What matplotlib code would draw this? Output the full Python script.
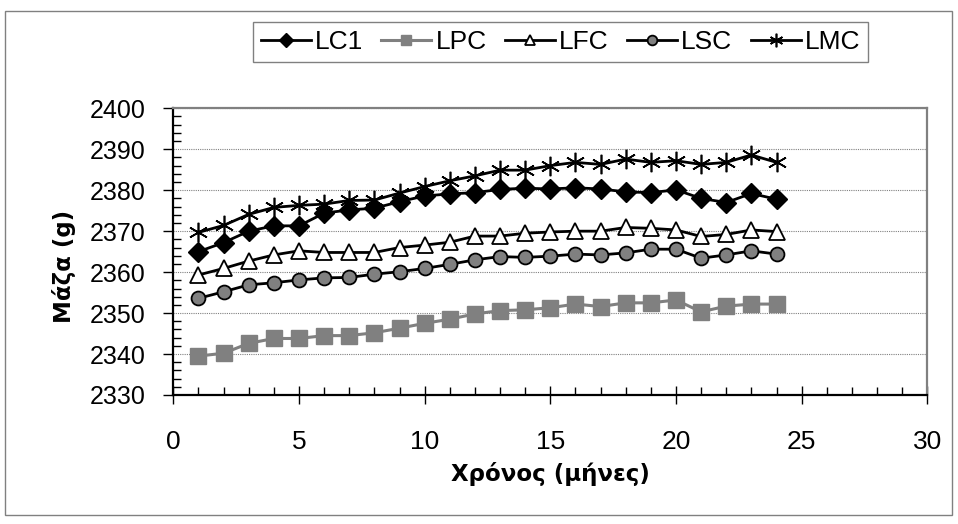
import matplotlib
matplotlib.use("Agg")
import matplotlib.pyplot as plt
from matplotlib.patches import Rectangle
from matplotlib.ticker import MultipleLocator

# Monthly mass measurements (g) for each mix
months = list(range(1, 25))
lc1 = [2365.0, 2367.2, 2370.0, 2371.3, 2371.3, 2374.4, 2375.2, 2375.6, 2377.2, 2378.6,
       2379.1, 2379.4, 2380.2, 2380.5, 2380.3, 2380.6, 2380.3, 2379.6, 2379.4, 2380.1,
       2378.0, 2377.0, 2379.2, 2377.8]
lpc = [2339.5, 2340.2, 2342.6, 2343.8, 2343.8, 2344.5, 2344.5, 2345.2, 2346.3, 2347.5,
       2348.5, 2349.8, 2350.6, 2350.8, 2351.3, 2352.2, 2351.6, 2352.5, 2352.5, 2353.2,
       2350.3, 2351.7, 2352.2, 2352.2]
lfc = [2359.3, 2360.9, 2362.7, 2364.2, 2365.2, 2364.8, 2364.8, 2364.8, 2366.0, 2366.6,
       2367.3, 2368.8, 2368.8, 2369.5, 2369.8, 2370.0, 2370.0, 2370.9, 2370.7, 2370.3,
       2368.7, 2369.2, 2370.3, 2369.9]
lsc = [2353.6, 2355.2, 2356.9, 2357.4, 2358.1, 2358.6, 2358.7, 2359.5, 2360.1, 2360.9,
       2361.9, 2363.0, 2363.8, 2363.6, 2363.9, 2364.4, 2364.2, 2364.7, 2365.6, 2365.6,
       2363.4, 2364.2, 2365.2, 2364.4]
lmc = [2369.7, 2371.4, 2374.1, 2375.8, 2376.3, 2376.6, 2377.5, 2377.6, 2379.3, 2380.9,
       2382.3, 2383.5, 2384.9, 2384.9, 2386.0, 2386.8, 2386.3, 2387.6, 2386.8, 2387.2,
       2386.3, 2386.8, 2388.6, 2386.8]

labels = ["LC1", "LPC", "LFC", "LSC", "LMC"]
x_label = "Χρόνος (μήνες)"
y_label = "Μάζα (g)"

plt.rcParams["font.family"] = ["Liberation Sans", "DejaVu Sans"]
narrow = ["Liberation Sans Narrow", "Liberation Sans", "DejaVu Sans"]

W, H = 958, 524
fig = plt.figure(figsize=(W / 100, H / 100), dpi=100)
ax = fig.add_axes([173.3 / W, 1 - 395 / H, 754 / W, 286.7 / H])

gray = "#808080"
ax.plot(months, lc1, color="black", lw=2, marker="D", ms=10, mfc="black", mec="black",
        label=labels[0], zorder=3)
ax.plot(months, lpc, color=gray, lw=2.2, marker="s", ms=11, mfc=gray, mec=gray,
        label=labels[1], zorder=3)
ax.plot(months, lfc, color="black", lw=2, marker="^", ms=11, mfc="white", mec="black",
        mew=1.3, label=labels[2], zorder=3)
ax.plot(months, lsc, color="black", lw=2, marker="o", ms=10, mfc=gray, mec="black",
        mew=1.3, label=labels[3], zorder=3)
ax.plot(months, lmc, color="black", lw=2, marker=(6, 2, 0), ms=14, mec="black",
        mew=1.2, label=labels[4], zorder=3)

ax.set_xlim(0, 30)
ax.set_ylim(2330, 2400)
ax.xaxis.set_major_locator(MultipleLocator(5))
ax.xaxis.set_minor_locator(MultipleLocator(1))
ax.yaxis.set_major_locator(MultipleLocator(10))
ax.yaxis.set_minor_locator(MultipleLocator(2))

ax.yaxis.grid(True, which="major", color=gray, linestyle=(0, (1, 1)), lw=0.8)
ax.set_axisbelow(True)

ax.tick_params(axis="x", which="major", direction="inout", length=13, width=1,
               pad=19, labelsize=19, colors="black")
ax.tick_params(axis="x", which="minor", direction="in", length=6, width=1)
ax.tick_params(axis="y", which="major", direction="out", length=7, width=1,
               pad=13, labelsize=18)
ax.tick_params(axis="y", which="minor", direction="in", length=6, width=1)
for lab in ax.get_xticklabels():
    lab.set_family(narrow)

for side in ("left", "bottom"):
    ax.spines[side].set_color("black")
    ax.spines[side].set_linewidth(1.6)
for side in ("right", "top"):
    ax.spines[side].set_color(gray)
    ax.spines[side].set_linewidth(1.6)

title_font = {"family": ["DejaVu Sans"], "size": 16.5, "weight": "bold"}
fig.text(550.3 / W, 1 - 481 / H, x_label, ha="center", va="baseline", **title_font)
fig.text(64 / W, 1 - 266 / H, y_label, ha="center", va="center", rotation=90,
         **title_font)

leg = fig.legend(loc="center", bbox_to_anchor=(560.5 / W, 1 - 42 / H), ncol=5,
                 frameon=True, fancybox=False, edgecolor=gray, framealpha=1,
                 prop={"family": narrow, "size": 19}, handlelength=1.9,
                 handletextpad=0.15, columnspacing=0.7, borderpad=0.3,
                 markerscale=0.7)
leg.get_frame().set_linewidth(1)

fig.patches.append(Rectangle((5 / W, 1 - 515 / H), 947 / W, 504 / H,
                             transform=fig.transFigure, fill=False,
                             edgecolor=gray, lw=1))

fig.savefig("out.png", dpi=100)
